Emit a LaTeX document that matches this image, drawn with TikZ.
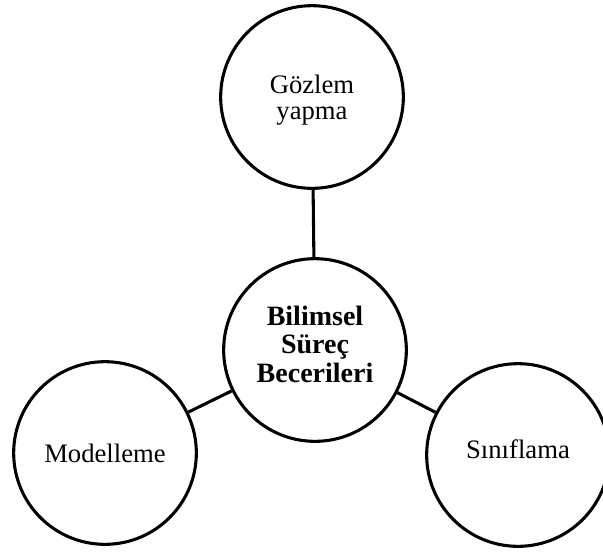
\documentclass[tikz,border=0pt]{standalone}
\usepackage{fontspec}
\setmainfont{Liberation Serif}
\begin{document}
\begin{tikzpicture}[x=0.75pt,y=-0.75pt,
  bubble/.style={circle,draw=black,line width=2.3pt,minimum size=137pt,inner sep=0pt},
  caption/.style={inner sep=0pt,align=center,font=\fontsize{20}{19.5}\selectfont},
  hubcaption/.style={caption,font=\fontsize{21}{21.4}\selectfont\bfseries},
  link/.style={line width=2.3pt}]
\useasboundingbox (0,0) rectangle (603,551);
% circles
\node[bubble] (obs) at (312,97) {};
\node[bubble] (core) at (315,350) {};
\node[bubble] (model) at (105,453) {};
\node[bubble] (class) at (518,455) {};
% captions
\node[caption] (obstext) at ([yshift=-2pt]obs.center) {Gözlem\\yapma};
\node[hubcaption] (coretext) at ([yshift=4.5pt]core.center) {Bilimsel\\Süreç\\Becerileri};
\node[caption] (modeltext) at (model.center) {Modelleme};
\node[caption] (classtext) at ([yshift=4pt]class.center) {Sınıflama};
% connectors
\draw[link] (obs) -- (core);
\draw[link] (core) -- (model);
\draw[link] (core) -- (class);
\end{tikzpicture}
\end{document}
